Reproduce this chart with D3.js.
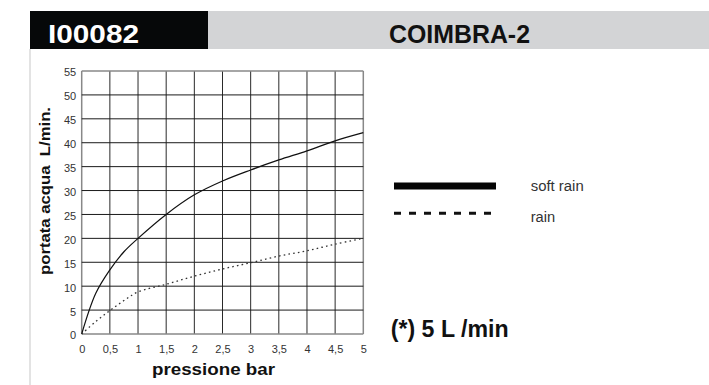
<!DOCTYPE html>
<html>
<head>
<meta charset="utf-8">
<script src="https://cdn.jsdelivr.net/npm/d3@7"></script>
<style>
  html, body { margin: 0; padding: 0; background: #fff; }
  svg { display: block; }
  text { font-family: "Liberation Sans", Arial, Helvetica, sans-serif; }
</style>
</head>
<body>
<svg id="chart" width="709" height="385"></svg>
<script>
// ---- data ----
const pressure = [0, 0.25, 0.5, 0.75, 1, 1.5, 2, 2.5, 3, 3.5, 4, 4.5, 5];
const softRain = [0, 8.5, 13.4, 17.2, 20, 25, 29.1, 32, 34.3, 36.4, 38.3, 40.4, 42.1];
const rain     = [0, 2.6, 4.9, 7.0, 8.8, 10.4, 12.1, 13.6, 14.9, 16.3, 17.4, 18.8, 20];
const xTicks = [0, 0.5, 1, 1.5, 2, 2.5, 3, 3.5, 4, 4.5, 5];
const yTicks = [0, 5, 10, 15, 20, 25, 30, 35, 40, 45, 50, 55];
const seriesNames = ["soft rain", "rain"];
const codeLabel = "I00082";
const modelLabel = "COIMBRA-2";
const xTitle = "pressione bar";
const yTitle = "portata acqua  L/min.";
const note = "(*) 5 L /min";

const svg = d3.select("#chart");

// ---- header ----
svg.append("rect").attr("x", 208).attr("y", 11).attr("width", 501).attr("height", 38).attr("fill", "#d3d4d6");
svg.append("rect").attr("x", 30).attr("y", 11).attr("width", 178).attr("height", 38).attr("fill", "#060809");
svg.append("rect").attr("x", 29).attr("y", 49).attr("width", 2).attr("height", 336).attr("fill", "#e3e3e3");

svg.append("text").attr("x", 48).attr("y", 43.3)
  .attr("fill", "#fff").attr("font-weight", "bold").attr("font-size", 25)
  .attr("style", "font-family:'Liberation Sans Narrow','Liberation Sans',Arial,sans-serif")
  .attr("textLength", 91).attr("lengthAdjust", "spacingAndGlyphs")
  .text(codeLabel);
svg.append("text").attr("x", 389).attr("y", 43.3)
  .attr("fill", "#111").attr("font-weight", "bold").attr("font-size", 25)
  .attr("style", "font-family:'Liberation Sans Narrow','Liberation Sans',Arial,sans-serif")
  .attr("textLength", 141).attr("lengthAdjust", "spacingAndGlyphs")
  .text(modelLabel);

// ---- scales ----
const x = d3.scaleLinear().domain([0, 5]).range([81.7, 363.3]);
const y = d3.scaleLinear().domain([0, 55]).range([334, 71]);

// ---- grid ----
const grid = svg.append("g");
grid.selectAll("line.v").data(xTicks).join("line")
  .attr("x1", d => x(d)).attr("x2", d => x(d))
  .attr("y1", y(0)).attr("y2", y(55))
  .attr("stroke", d => (d === 0 || d === 5) ? "#888" : "#2a2a2a")
  .attr("stroke-width", d => (d === 0 || d === 5) ? 1.5 : 1);
grid.selectAll("line.h").data(yTicks).join("line")
  .attr("x1", x(0)).attr("x2", x(5))
  .attr("y1", d => y(d)).attr("y2", d => y(d))
  .attr("stroke", d => (d === 0 || d === 55) ? "#888" : "#1a1a1a")
  .attr("stroke-width", d => (d === 0 || d === 55) ? 1.5 : 1);

// ---- axes (labels only) ----
const fmt = d => String(d).replace(".", ",");
const xAxis = d3.axisBottom(x).tickValues(xTicks).tickFormat(fmt).tickSize(0).tickPadding(11);
const gx = svg.append("g").attr("transform", `translate(0,${y(0)})`).call(xAxis);
gx.select(".domain").remove();
gx.selectAll("text").attr("font-size", 11).attr("fill", "#333")
  .attr("font-family", "'Liberation Sans', Arial, sans-serif");

const yAxis = d3.axisLeft(y).tickValues(yTicks).tickFormat(fmt).tickSize(0).tickPadding(5.5);
const gy = svg.append("g").attr("transform", `translate(${x(0)},0)`).call(yAxis);
gy.select(".domain").remove();
gy.selectAll("text").attr("font-size", 11).attr("fill", "#333").attr("dy", "0.45em")
  .attr("font-family", "'Liberation Sans', Arial, sans-serif");

// ---- axis titles ----
svg.append("text").attr("x", 152).attr("y", 375)
  .attr("font-weight", "bold").attr("font-size", 17).attr("fill", "#111")
  .attr("textLength", 123).attr("lengthAdjust", "spacingAndGlyphs")
  .text(xTitle);
svg.append("text")
  .attr("transform", "translate(50,275) rotate(-90)")
  .attr("font-weight", "bold").attr("font-size", 15).attr("fill", "#111")
  .attr("style", "white-space:pre")
  .attr("textLength", 168).attr("lengthAdjust", "spacingAndGlyphs")
  .text(yTitle);

// ---- lines ----
const line = d3.line().x(d => x(d[0])).y(d => y(d[1])).curve(d3.curveCatmullRom.alpha(0.5));
svg.append("path").datum(pressure.map((p, i) => [p, softRain[i]]))
  .attr("d", line).attr("fill", "none").attr("stroke", "#111").attr("stroke-width", 1.2);
svg.append("path").datum(pressure.map((p, i) => [p, rain[i]]))
  .attr("d", line).attr("fill", "none").attr("stroke", "#333").attr("stroke-width", 1.3)
  .attr("stroke-dasharray", "1.6,3.2");

// ---- legend ----
const legend = svg.append("g");
legend.append("line").attr("x1", 394).attr("x2", 496).attr("y1", 186).attr("y2", 186)
  .attr("stroke", "#050505").attr("stroke-width", 7);
legend.append("line").attr("x1", 394).attr("x2", 491).attr("y1", 213.3).attr("y2", 213.3)
  .attr("stroke", "#111").attr("stroke-width", 3).attr("stroke-dasharray", "7,8");
legend.append("text").attr("x", 530.7).attr("y", 190.7).attr("font-size", 14).attr("fill", "#333")
  .attr("textLength", 53).attr("lengthAdjust", "spacingAndGlyphs").text(seriesNames[0]);
legend.append("text").attr("x", 530.7).attr("y", 221.7).attr("font-size", 14).attr("fill", "#333")
  .attr("textLength", 24.5).attr("lengthAdjust", "spacingAndGlyphs").text(seriesNames[1]);

// ---- note ----
svg.append("text").attr("x", 390.7).attr("y", 337.3)
  .attr("font-weight", "bold").attr("font-size", 24).attr("fill", "#111")
  .attr("textLength", 118).attr("lengthAdjust", "spacingAndGlyphs")
  .text(note);
</script>
</body>
</html>
